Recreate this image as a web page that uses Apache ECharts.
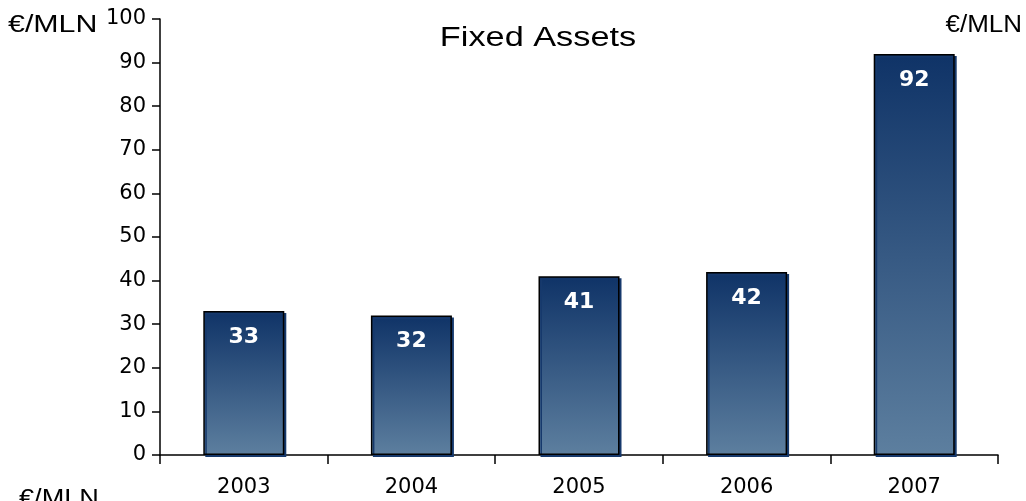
<!DOCTYPE html>
<html><head><meta charset="utf-8">
<script src="https://cdn.jsdelivr.net/npm/echarts@6/dist/echarts.min.js"></script>
<style>html,body{margin:0;padding:0;background:#fff}#c{width:1026px;height:501px}</style>
</head><body><div id="c"></div>
<script>
const categories = ['2003','2004','2005','2006','2007'];
const values = [33, 32, 41, 42, 92];
const titleText = 'Fixed Assets';
const unitText = '€/MLN';

const chart = echarts.init(document.getElementById('c'), null, {renderer:'canvas'});
const font = '"Liberation Sans", Arial, sans-serif';
const dfont = '"DejaVu Sans", sans-serif';
chart.setOption({
  animation:false,
  backgroundColor:'#fff',
  graphic:[
    {type:'text',x:538,y:39,scaleX:1.27,style:{text:titleText,font:'27px '+font,fill:'#000',textAlign:'center',textVerticalAlign:'middle'}},
    {type:'text',x:8,y:26,scaleX:1.32,style:{text:unitText,font:'23px '+font,fill:'#000',textAlign:'left',textVerticalAlign:'middle'}},
    {type:'text',x:1022,y:26,scaleX:1.13,style:{text:unitText,font:'23px '+font,fill:'#000',textAlign:'right',textVerticalAlign:'middle'}},
    {type:'text',x:19,y:500,scaleX:1.18,style:{text:unitText,font:'23px '+font,fill:'#000',textAlign:'left',textVerticalAlign:'middle'}}
  ],
  grid:{left:160,right:28,top:19,bottom:46},
  xAxis:{type:'category',data:categories,
    axisLine:{lineStyle:{color:'#000',width:1.5}},
    axisTick:{show:true,inside:false,length:9,lineStyle:{color:'#000',width:1.5}},
    axisLabel:{fontFamily:dfont,fontSize:21,color:'#000',margin:22}},
  yAxis:{type:'value',min:0,max:100,interval:10,
    axisLine:{show:true,lineStyle:{color:'#000',width:1.5}},
    axisTick:{show:true,length:8,lineStyle:{color:'#000',width:1.5}},
    splitLine:{show:false},
    axisLabel:{fontFamily:dfont,fontSize:21,color:'#000',margin:14}},
  series:[{type:'bar',data:values,barWidth:81,
    itemStyle:{
      color:new echarts.graphic.LinearGradient(0,0,0,1,[{offset:0,color:'#0f3367'},{offset:1,color:'#5d7f9f'}]),
      borderColor:'#000',borderWidth:1.5,
      shadowColor:'#16396c',shadowOffsetX:2,shadowOffsetY:2,shadowBlur:0},
    label:{show:true,position:'insideTop',distance:15,color:'#fff',fontFamily:dfont,fontSize:22,fontWeight:'bold'}
  }]
});
</script></body></html>
